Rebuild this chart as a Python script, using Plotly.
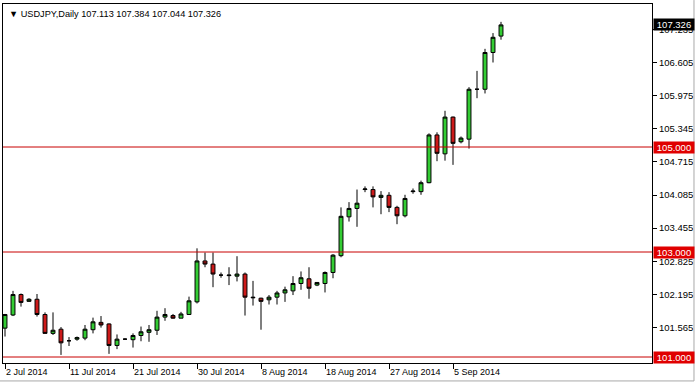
import plotly.graph_objects as go

dates = ["2014-07-02","2014-07-03","2014-07-04","2014-07-06","2014-07-07","2014-07-08","2014-07-09","2014-07-10",
         "2014-07-11","2014-07-13","2014-07-14","2014-07-15","2014-07-16","2014-07-17","2014-07-18","2014-07-20",
         "2014-07-21","2014-07-22","2014-07-23","2014-07-24","2014-07-25","2014-07-27","2014-07-28","2014-07-29",
         "2014-07-30","2014-07-31","2014-08-01","2014-08-03","2014-08-04","2014-08-05","2014-08-06","2014-08-07",
         "2014-08-08","2014-08-10","2014-08-11","2014-08-12","2014-08-13","2014-08-14","2014-08-15","2014-08-17",
         "2014-08-18","2014-08-19","2014-08-20","2014-08-21","2014-08-22","2014-08-24","2014-08-25","2014-08-26",
         "2014-08-27","2014-08-28","2014-08-29","2014-08-31","2014-09-01","2014-09-02","2014-09-03","2014-09-04",
         "2014-09-05","2014-09-07","2014-09-08","2014-09-09","2014-09-10","2014-09-11","2014-09-12"]

opens = [101.55,101.80,102.19,102.06,102.10,101.81,101.45,101.53,101.31,101.34,101.36,101.52,101.66,101.63,101.22,101.34,
         101.33,101.41,101.47,101.51,101.76,101.79,101.74,101.81,102.05,102.83,102.77,102.56,102.55,102.54,102.58,102.14,
         102.12,102.09,102.14,102.22,102.26,102.40,102.49,102.37,102.40,102.61,102.93,103.67,103.83,104.19,104.19,104.04,
         104.08,103.85,103.69,104.15,104.15,104.32,105.23,104.87,105.57,105.10,105.15,106.10,106.10,106.80,107.113]
highs = [101.82,102.26,102.21,102.12,102.20,101.85,101.85,101.57,101.38,101.39,101.61,101.75,101.78,101.64,101.43,101.36,
         101.45,101.58,101.61,101.88,101.93,101.82,101.86,102.15,103.07,102.99,102.99,102.61,102.71,102.92,102.61,102.45,
         102.13,102.18,102.26,102.34,102.54,102.63,102.71,102.42,102.63,102.96,103.85,103.95,104.19,104.25,104.25,104.16,
         104.14,103.88,104.09,104.21,104.36,105.26,105.28,105.69,105.58,105.20,106.14,106.45,106.87,107.17,107.384]
lows = [101.39,101.78,101.96,102.05,101.77,101.45,101.42,101.04,101.21,101.31,101.32,101.45,101.56,101.06,101.15,101.33,
        101.18,101.30,101.29,101.42,101.69,101.73,101.74,101.80,102.02,102.71,102.33,102.51,102.37,102.44,101.79,101.98,
        101.52,102.00,102.00,102.05,102.18,102.28,102.11,102.35,102.23,102.50,102.90,103.58,103.48,104.14,103.85,103.72,
        103.76,103.53,103.66,104.11,104.09,104.31,104.73,104.74,104.66,105.07,104.97,105.93,106.02,106.61,107.044]
closes = [101.81,102.19,102.04,102.10,101.81,101.45,101.51,101.27,101.31,101.37,101.53,101.67,101.61,101.22,101.34,101.34,
          101.41,101.48,101.52,101.76,101.81,101.74,101.82,102.07,102.83,102.77,102.58,102.56,102.56,102.58,102.14,102.13,
          102.06,102.14,102.22,102.28,102.40,102.51,102.31,102.42,102.61,102.94,103.68,103.83,103.93,104.20,104.05,104.08,
          103.85,103.69,104.02,104.16,104.32,105.23,104.88,105.57,105.07,105.17,106.10,106.10,106.80,107.09,107.326]

x_tick_dates = ["2014-07-02","2014-07-11","2014-07-21","2014-07-30","2014-08-08","2014-08-18","2014-08-27","2014-09-05"]
x_tick_labels = ["2 Jul 2014","11 Jul 2014","21 Jul 2014","30 Jul 2014","8 Aug 2014","18 Aug 2014","27 Aug 2014","5 Sep 2014"]
y_ticks = [101.565,102.195,102.825,103.455,104.085,104.715,105.345,105.975,106.605,107.235]
levels = [105.0, 103.0, 101.0]
symbol = "USDJPY,Daily"

FONT = "Liberation Sans"
LBL = 9.5

fig = go.Figure(go.Candlestick(
    x=dates, open=opens, high=highs, low=lows, close=closes,
    increasing=dict(line=dict(color="black", width=1), fillcolor="#33CC33"),
    decreasing=dict(line=dict(color="black", width=1), fillcolor="#CC1A1A"),
    whiskerwidth=0, hoverinfo="skip",
))

for lv in levels:
    fig.add_shape(type="line", xref="paper", yref="y", x0=0, x1=1, y0=lv, y1=lv,
                  line=dict(color="#C80000", width=1))
    fig.add_annotation(xref="paper", yref="y", x=1, y=lv, xanchor="left", yanchor="middle",
                       xshift=1, text=f"{lv:.3f}", showarrow=False, bgcolor="#E00000",
                       font=dict(color="white", size=LBL, family=FONT), width=40, height=11, borderpad=0)

fig.add_annotation(xref="paper", yref="y", x=1, y=closes[-1], xanchor="left", yanchor="middle",
                   xshift=1, text=f"{closes[-1]:.3f}", showarrow=False, bgcolor="black",
                   font=dict(color="white", size=LBL, family=FONT), width=40, height=11, borderpad=0)

header = f"▼ {symbol} {opens[-1]:.3f} {highs[-1]:.3f} {lows[-1]:.3f} {closes[-1]:.3f}"
fig.add_annotation(xref="paper", yref="paper", x=0, y=1, xanchor="left", yanchor="top",
                   xshift=4, yshift=-3, text=header, showarrow=False,
                   font=dict(color="black", size=9.2, family=FONT))

# window frame (right and bottom grey edges)
fig.add_shape(type="line", xref="paper", yref="paper", x0=1.0647, x1=1.0647, y0=-0.05, y1=1.011,
              line=dict(color="#A8A8A8", width=1))
fig.add_shape(type="line", xref="paper", yref="paper", x0=-0.005, x1=1.0647, y0=-0.05, y1=-0.05,
              line=dict(color="#A8A8A8", width=1))

fig.update_layout(
    width=696, height=383,
    margin=dict(l=3, r=44, t=4, b=20, autoexpand=False),
    paper_bgcolor="white", plot_bgcolor="white",
    showlegend=False, hovermode=False,
    font=dict(family=FONT, size=LBL, color="black"),
    xaxis=dict(type="category", range=[-0.25, 80.875], rangeslider=dict(visible=False), automargin=False,
               showgrid=False, zeroline=False, showline=True, linecolor="black", linewidth=1, mirror=True,
               ticks="outside", ticklen=5, tickcolor="black", tickvals=x_tick_dates, ticktext=x_tick_labels,
               tickangle=0, ticklabelposition="outside right", tickfont=dict(size=9, family=FONT),
               fixedrange=True),
    yaxis=dict(side="right", range=[100.886, 107.724], showgrid=False, zeroline=False, automargin=False,
               showline=True, linecolor="black", linewidth=1, mirror=True,
               ticks="outside", ticklen=4, tickcolor="black", tickvals=y_ticks,
               ticktext=[f"{v:.3f}" for v in y_ticks], tickfont=dict(size=LBL, family=FONT), fixedrange=True),
)

fig.write_html("out.html", config={"displayModeBar": False},
               post_script="document.body.style.margin='0';document.body.style.overflow='hidden';")
